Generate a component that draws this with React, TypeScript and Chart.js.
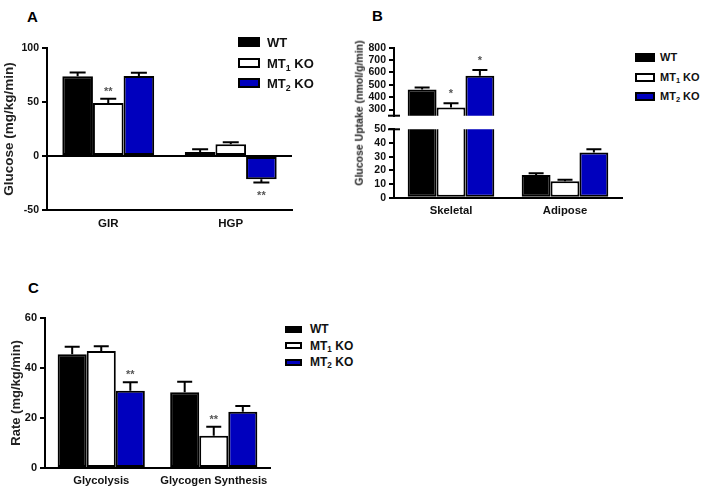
import React, { useEffect, useRef } from 'react';
import { Chart, registerables } from 'chart.js';
Chart.register(...registerables);

const FONT = "'Liberation Sans', Arial, Helvetica, sans-serif";

// Series
const seriesNames = ['WT', 'MT₁ KO', 'MT₂ KO'];
const seriesColors = ['#000000', '#ffffff', '#0000be'];

// Panel A
const categoriesA = ['GIR', 'HGP'];
const wtA = [73.8, 3.7];
const wtAErr = [3.4, 2.5];
const mt1A = [49, 10.8];
const mt1AErr = [4, 2];
const mt2A = [74, -21.5];
const mt2AErr = [3, 3];
const sigAWT = ['', ''];
const sigAMT1 = ['**', ''];
const sigAMT2 = ['', '**'];
const ticksA = [-50, 0, 50, 100];

// Panel B
const categoriesB = ['Skeletal', 'Adipose'];
const wtB = [462, 16.6];
const wtBErr = [16, 1.3];
const mt1B = [316, 12];
const mt1BErr = [34, 1.2];
const mt2B = [574, 33];
const mt2BErr = [46, 2.5];
const sigBWT = ['', ''];
const sigBMT1 = ['*', ''];
const sigBMT2 = ['*', ''];
const ticksBUpper = [300, 400, 500, 600, 700, 800];
const ticksBLower = [0, 10, 20, 30, 40, 50];

// Panel C
const categoriesC = ['Glycolysis', 'Glycogen Synthesis'];
const wtC = [45.5, 30.3];
const wtCErr = [3, 4.2];
const mt1C = [46.8, 12.9];
const mt1CErr = [1.9, 3.6];
const mt2C = [30.9, 22.5];
const mt2CErr = [3.4, 2.3];
const sigCWT = ['', ''];
const sigCMT1 = ['', '**'];
const sigCMT2 = ['**', ''];
const ticksC = [0, 20, 40, 60];

const errorBarsPlugin = {
  id: 'errorBars',
  afterDatasetsDraw(chart: any, _args: any, opts: any) {
    const { ctx, chartArea } = chart;
    const y = chart.scales.y;
    const capW = opts.capWidth || 15;
    ctx.save();
    ctx.beginPath();
    ctx.rect(chartArea.left, chartArea.top - 40, chartArea.right - chartArea.left, chartArea.bottom - chartArea.top + 80);
    ctx.clip();
    chart.data.datasets.forEach((ds: any, i: number) => {
      const meta = chart.getDatasetMeta(i);
      meta.data.forEach((bar: any, j: number) => {
        const v = ds.data[j];
        const e = ds.errors ? ds.errors[j] : 0;
        if (v > y.max || v < y.min) return;
        const end = v >= 0 ? v + e : v - e;
        const py = y.getPixelForValue(end);
        const px = bar.x;
        ctx.strokeStyle = '#000';
        ctx.lineWidth = 2;
        ctx.beginPath();
        ctx.moveTo(px, bar.y);
        ctx.lineTo(px, py);
        ctx.moveTo(px - capW / 2, py);
        ctx.lineTo(px + capW / 2, py);
        ctx.stroke();
        const s = ds.sig ? ds.sig[j] : '';
        if (s) {
          ctx.fillStyle = '#555';
          ctx.font = `bold ${opts.sigSize || 11}px ${FONT}`;
          ctx.textAlign = 'center';
          ctx.textBaseline = 'alphabetic';
          ctx.fillText(s, px, v >= 0 ? py - (opts.sigGap || 4) : py + 17);
        }
      });
    });
    ctx.restore();
  },
};

const breakPlugin = {
  id: 'axisBreak',
  afterDraw(chart: any, _args: any, opts: any) {
    if (!opts || !opts.edge) return;
    const { ctx, chartArea } = chart;
    const yy = opts.edge === 'bottom' ? chartArea.bottom : chartArea.top;
    ctx.save();
    ctx.strokeStyle = '#000';
    ctx.lineWidth = 2;
    ctx.beginPath();
    ctx.moveTo(chartArea.left - 6, yy);
    ctx.lineTo(chartArea.left + 6, yy);
    ctx.stroke();
    ctx.restore();
  },
};

function makeDatasets(values: number[][], errs: number[][], sigs: string[][]) {
  return values.map((data, k) => ({
    label: seriesNames[k],
    data,
    errors: errs[k],
    sig: sigs[k],
    backgroundColor: seriesColors[k],
    borderColor: '#000',
    borderWidth: 2,
    borderSkipped: false,
    clip: 0,
  }));
}

function yScale(p: any) {
  return {
    type: 'linear',
    min: p.min,
    max: p.max,
    afterBuildTicks: (s: any) => {
      s.ticks = p.ticks.map((v: number) => ({ value: v }));
    },
    afterFit: (s: any) => {
      s.width = p.width;
    },
    grid: {
      drawOnChartArea: true,
      color: (ctx: any) => (p.zeroLine && ctx.tick && ctx.tick.value === 0 ? '#000' : 'rgba(0,0,0,0)'),
      tickColor: '#000',
      tickLength: 5,
      lineWidth: 2,
      tickWidth: 2,
    },
    border: { display: true, color: '#000', width: 2 },
    ticks: {
      font: { family: FONT, size: p.tickSize, weight: 'bold' },
      color: '#111',
      padding: 3,
      autoSkip: false,
    },
    title: p.title
      ? {
          display: true,
          text: p.title,
          font: { family: FONT, size: p.titleSize, weight: 'bold' },
          color: '#222',
          padding: { top: p.titlePad, bottom: 0 },
        }
      : { display: false },
  };
}

function xScale(p: any) {
  return {
    type: 'category',
    display: p.display !== false,
    offset: true,
    afterFit: (s: any) => {
      s.height = p.height;
    },
    grid: { display: false, drawTicks: false },
    border: { display: true, color: '#000', width: 2 },
    ticks: {
      font: { family: FONT, size: p.size, weight: 'bold' },
      color: '#111',
      padding: p.padding,
      maxRotation: 0,
      autoSkip: false,
    },
  };
}

function makeConfig(p: any) {
  return {
    type: 'bar',
    data: { labels: p.labels, datasets: p.datasets },
    options: {
      responsive: false,
      animation: false,
      devicePixelRatio: 1,
      events: [],
      layout: { padding: p.padding },
      datasets: { bar: { categoryPercentage: p.catPct, barPercentage: 1 } },
      scales: { x: p.x, y: p.y },
      plugins: {
        legend: { display: false },
        tooltip: { enabled: false },
        errorBars: p.err || {},
        axisBreak: p.brk || {},
      },
    },
    plugins: [errorBarsPlugin, breakPlugin],
  };
}

function ChartCanvas({ left, top, width, height, build }: any) {
  const ref = useRef<HTMLCanvasElement>(null);
  useEffect(() => {
    const chart = new Chart(ref.current as HTMLCanvasElement, build() as any);
    return () => chart.destroy();
  }, []);
  return (
    <canvas
      ref={ref}
      width={width}
      height={height}
      style={{ position: 'absolute', left, top, width, height }}
    />
  );
}

function Legend({ swLeft, swW, swH, textLeft, ys, size }: any) {
  const subStyle = { fontSize: '0.68em', verticalAlign: 'baseline', position: 'relative', top: '0.3em' } as any;
  const labels = [
    <>WT</>,
    <>
      MT<sub style={subStyle}>1</sub> KO
    </>,
    <>
      MT<sub style={subStyle}>2</sub> KO
    </>,
  ];
  return (
    <>
      {ys.map((y: number, k: number) => (
        <React.Fragment key={k}>
          <div
            style={{
              position: 'absolute',
              left: swLeft,
              top: y - swH / 2,
              width: swW,
              height: swH,
              background: seriesColors[k],
              border: '2px solid #000',
              boxSizing: 'border-box',
            }}
          />
          <div
            style={{
              position: 'absolute',
              left: textLeft,
              top: y,
              transform: 'translateY(-50%)',
              font: `bold ${size}px ${FONT}`,
              lineHeight: 1,
              color: '#111',
              whiteSpace: 'nowrap',
            }}
          >
            {labels[k]}
          </div>
        </React.Fragment>
      ))}
    </>
  );
}

function Letter({ text, x, y }: any) {
  return (
    <div
      style={{
        position: 'absolute',
        left: x,
        top: y,
        transform: 'translateY(-50%)',
        font: `bold 15px ${FONT}`,
        lineHeight: 1,
        color: '#000',
      }}
    >
      {text}
    </div>
  );
}

export default function App() {
  const buildA = () =>
    makeConfig({
      labels: categoriesA,
      datasets: makeDatasets([wtA, mt1A, mt2A], [wtAErr, mt1AErr, mt2AErr], [sigAWT, sigAMT1, sigAMT2]),
      padding: { left: 0, top: 18, right: 8, bottom: 0 },
      catPct: 0.75,
      x: xScale({ height: 35, size: 11.5, padding: 7 }),
      y: yScale({
        min: -50, max: 100, ticks: ticksA, width: 47, tickSize: 10.5, zeroLine: true,
        title: 'Glucose (mg/kg/min)', titleSize: 13.5, titlePad: 1,
      }),
      err: { capWidth: 16, sigGap: 4, sigSize: 11 },
    });

  const buildBUpper = () =>
    makeConfig({
      labels: categoriesB,
      datasets: makeDatasets([wtB, mt1B, mt2B], [wtBErr, mt1BErr, mt2BErr], [sigBWT, sigBMT1, sigBMT2]),
      padding: { left: 0, top: 17.7, right: 8, bottom: 7.7 },
      catPct: 0.76,
      x: xScale({ display: false, height: 0, size: 11, padding: 6 }),
      y: yScale({ min: 250, max: 800, ticks: ticksBUpper, width: 64, tickSize: 10.5 }),
      err: { capWidth: 15, sigGap: 6, sigSize: 11 },
      brk: { edge: 'bottom' },
    });

  const buildBLower = () =>
    makeConfig({
      labels: categoriesB,
      datasets: makeDatasets([wtB, mt1B, mt2B], [wtBErr, mt1BErr, mt2BErr], [sigBWT, sigBMT1, sigBMT2]),
      padding: { left: 0, top: 7.7, right: 8, bottom: 0 },
      catPct: 0.76,
      x: xScale({ height: 27.3, size: 11.3, padding: 6 }),
      y: yScale({ min: 0, max: 50, ticks: ticksBLower, width: 64, tickSize: 10.5 }),
      err: { capWidth: 15, sigGap: 4, sigSize: 11 },
      brk: { edge: 'top' },
    });

  const buildC = () =>
    makeConfig({
      labels: categoriesC,
      datasets: makeDatasets([wtC, mt1C, mt2C], [wtCErr, mt1CErr, mt2CErr], [sigCWT, sigCMT1, sigCMT2]),
      padding: { left: 0, top: 18, right: 10, bottom: 0 },
      catPct: 0.775,
      x: xScale({ height: 22, size: 11.2, padding: 6 }),
      y: yScale({
        min: 0, max: 60, ticks: ticksC, width: 45, tickSize: 11,
        title: 'Rate (mg/kg/min)', titleSize: 13, titlePad: 9,
      }),
      err: { capWidth: 15, sigGap: 4, sigSize: 11 },
    });

  return (
    <div style={{ position: 'fixed', left: 0, top: 0, width: 709, height: 490, background: '#fff', overflow: 'hidden' }}>
      <Letter text="A" x={27} y={16} />
      <Letter text="B" x={372} y={15} />
      <Letter text="C" x={28} y={287} />

      <ChartCanvas left={0} top={30} width={300} height={215} build={buildA} />
      <ChartCanvas left={330} top={30} width={300} height={95} build={buildBUpper} />
      <ChartCanvas left={330} top={120} width={300} height={105} build={buildBLower} />
      <ChartCanvas left={0} top={300} width={280} height={190} build={buildC} />

      <div
        style={{
          position: 'absolute',
          left: 359,
          top: 113,
          transform: 'translate(-50%, -50%) rotate(-90deg)',
          font: `bold 10.5px ${FONT}`,
          color: '#222',
          whiteSpace: 'nowrap',
          lineHeight: 1,
        }}
      >
        Glucose Uptake (nmol/g/min)
      </div>

      <Legend swLeft={238} swW={22} swH={10} textLeft={267} ys={[42, 63, 83]} size={13} />
      <Legend swLeft={635} swW={20} swH={9} textLeft={660} ys={[57, 77, 96]} size={11} />
      <Legend swLeft={285} swW={17} swH={7} textLeft={310} ys={[329, 345.5, 362]} size={12} />
    </div>
  );
}
